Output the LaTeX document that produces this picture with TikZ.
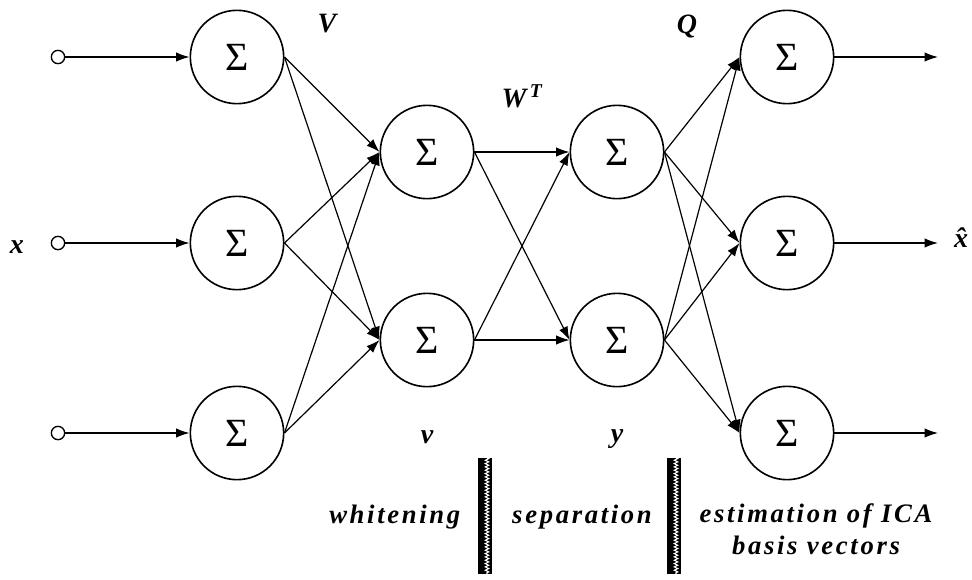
\documentclass[tikz,border=0pt]{standalone}
\usepackage{fontspec}
\setmainfont{Liberation Serif}
\newfontfamily\stagefont[LetterSpace=10]{Liberation Serif}
\usetikzlibrary{
	arrows.meta,
	positioning,
	decorations.pathmorphing
}

\begin{document}
\begin{tikzpicture}[
    x=0.75pt, y=-0.75pt,
    neuron/.style={circle, draw, line width=1.2pt, minimum size=70pt, inner sep=0pt, font=\fontsize{30}{30}\selectfont},
    port/.style={circle, draw, line width=1pt, minimum size=10pt, inner sep=0pt},
    arrow/.style={-{Latex[length=10pt,width=7pt]}, line width=0.9pt},
    lbl/.style={font=\fontsize{21}{21}\selectfont\bfseries\itshape},
    stage/.style={font=\stagefont\fontsize{20}{24}\selectfont\bfseries\itshape, align=center},
    bar/.style={rectangle, fill=black, minimum width=11pt, minimum height=87pt, inner sep=0pt}
]
\useasboundingbox (0,0) rectangle (972,579);

% inputs and first layer
\node[port] (in1) at (58,57) {};
\node[port] (in2) at (58,243) {};
\node[port] (in3) at (58,433) {};
\node[neuron] (l1) at (237,57) {Σ};
\node[neuron] (l2) at (237,243) {Σ};
\node[neuron] (l3) at (237,433) {Σ};

% whitened and separated layers
\node[neuron] (w1) at (427,152) {Σ};
\node[neuron] (w2) at (427,340) {Σ};
\node[neuron] (s1) at (617,152) {Σ};
\node[neuron] (s2) at (617,340) {Σ};

% output layer
\node[neuron] (r1) at (787,57) {Σ};
\node[neuron] (r2) at (787,243) {Σ};
\node[neuron] (r3) at (787,433) {Σ};
\coordinate (out1) at (938,57);
\coordinate (out2) at (938,243);
\coordinate (out3) at (938,433);

% labels
\node[lbl, anchor=base] (xin) at (17,253) {x};
\node[lbl, anchor=base] (xout) at (961,247) {\^x};
\node[lbl] (vmat) at (327,24) {V};
\node[lbl] (wmat) at (522,96) {W\textsuperscript{\,T}};
\node[lbl] (qmat) at (687,26) {Q};
\node[lbl] (vvec) at (427,437) {v};
\node[lbl] (yvec) at (617,439) {y};

% stages
\node[stage, anchor=east] (white) at (465,517) {whitening};
\node[stage] (sep) at (582,517) {separation};
\node[stage] (est) at (816,529) {estimation of ICA\\basis vectors};
\node[bar] (bar1) at (485,516) {};
\node[bar] (bar2) at (674,516) {};
\draw[white, line width=0.8pt, decorate, decoration={zigzag, segment length=2.5pt, amplitude=1.3pt}] ([xshift=1.5pt]bar1.north) -- ([xshift=1.5pt]bar1.south);
\draw[white, line width=0.8pt, decorate, decoration={zigzag, segment length=2.5pt, amplitude=1.3pt}] ([xshift=1.5pt]bar2.north) -- ([xshift=1.5pt]bar2.south);

\draw[arrow] (in1) -- (l1);
\draw[arrow] (in2) -- (l2);
\draw[arrow] (in3) -- (l3);

\draw[arrow] (l1.east) -- (w1.west);
\draw[arrow] (l1.east) -- (w2.west);
\draw[arrow] (l2.east) -- (w1.west);
\draw[arrow] (l2.east) -- (w2.west);
\draw[arrow] (l3.east) -- (w1.west);
\draw[arrow] (l3.east) -- (w2.west);

\draw[arrow] (w1.east) -- (s1.west);
\draw[arrow] (w1.east) -- (s2.west);
\draw[arrow] (w2.east) -- (s1.west);
\draw[arrow] (w2.east) -- (s2.west);

\draw[arrow] (s1.east) -- (r1.west);
\draw[arrow] (s1.east) -- (r2.west);
\draw[arrow] (s1.east) -- (r3.west);
\draw[arrow] (s2.east) -- (r1.west);
\draw[arrow] (s2.east) -- (r2.west);
\draw[arrow] (s2.east) -- (r3.west);

\draw[arrow] (r1) -- (out1);
\draw[arrow] (r2) -- (out2);
\draw[arrow] (r3) -- (out3);
\end{tikzpicture}
\end{document}
